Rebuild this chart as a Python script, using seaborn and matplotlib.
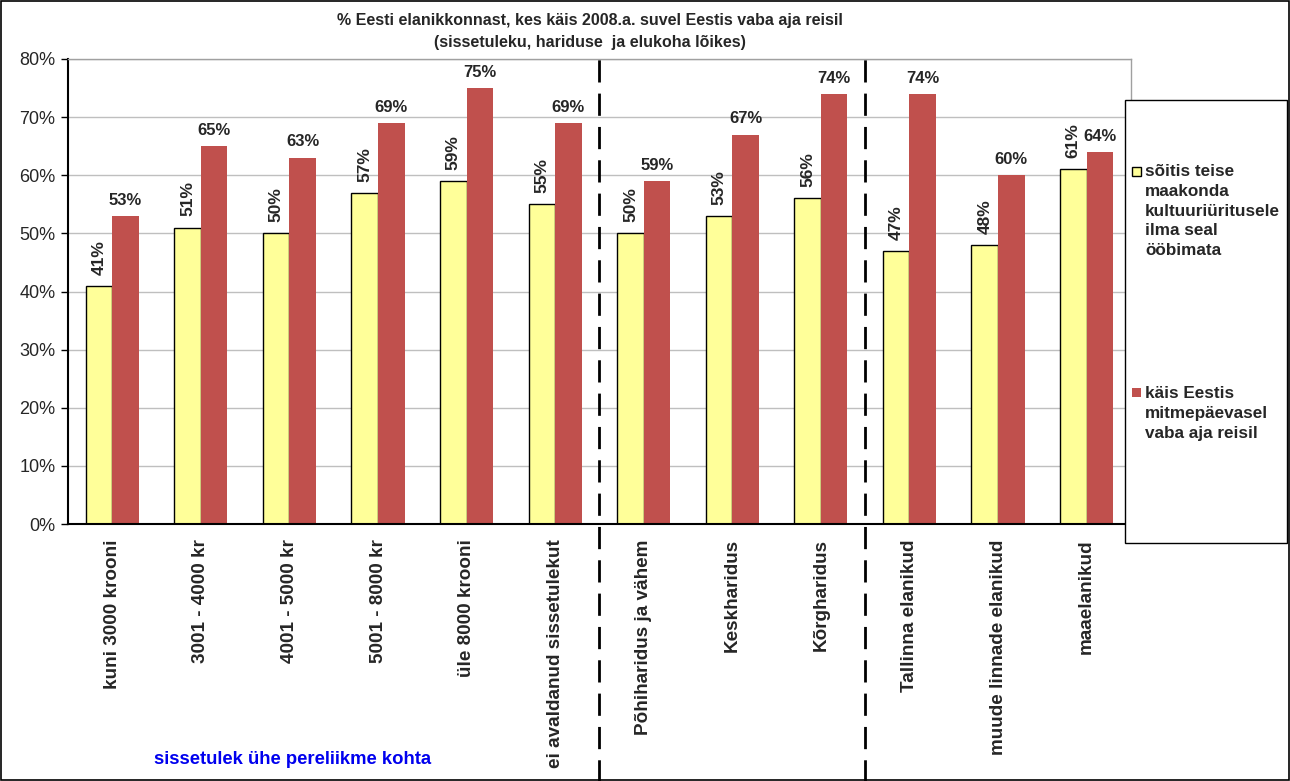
import matplotlib
matplotlib.use("Agg")
import matplotlib.pyplot as plt
import seaborn as sns
import numpy as np
import pandas as pd
from matplotlib.patches import Rectangle

# chart data
categories = ["kuni 3000 krooni", "3001 - 4000 kr", "4001 - 5000 kr", "5001 - 8000 kr",
              "üle 8000 krooni", "ei avaldanud sissetulekut", "Põhiharidus ja vähem",
              "Keskharidus", "Kõrgharidus", "Tallinna elanikud", "muude linnade elanikud",
              "maaelanikud"]
culture_trip = [41, 51, 50, 57, 59, 55, 50, 53, 56, 47, 48, 61]
leisure_trip = [53, 65, 63, 69, 75, 69, 59, 67, 74, 74, 60, 64]
series_names = ["sõitis teise\nmaakonda\nkultuuriüritusele\nilma seal\nööbimata",
                "käis Eestis\nmitmepäevasel\nvaba aja reisil"]
y_ticks = [0, 10, 20, 30, 40, 50, 60, 70, 80]
title = "% Eesti elanikkonnast, kes käis 2008.a. suvel Eestis vaba aja reisil\n(sissetuleku, hariduse  ja elukoha lõikes)"
income_note = "sissetulek ühe pereliikme kohta"

colors = ["#FFFF99", "#C0504D"]

sns.set_style("white")
plt.rcParams["font.family"] = ["Liberation Sans", "DejaVu Sans"]

df = pd.DataFrame({
    "category": categories * 2,
    "value": culture_trip + leisure_trip,
    "series": [series_names[0]] * len(categories) + [series_names[1]] * len(categories),
})

fig = plt.figure(figsize=(12.9, 7.81), dpi=100)
ax = fig.add_axes([0.0527, 0.329, 0.8240, 0.5955])

sns.barplot(data=df, x="category", y="value", hue="series", palette=colors,
            width=0.6, gap=0, saturation=1, legend=False, ax=ax)

# yellow bars get a black outline, red ones none
for bar in ax.containers[0]:
    bar.set_edgecolor("black")
    bar.set_linewidth(1.0)
for bar in ax.containers[1]:
    bar.set_edgecolor("none")

ax.bar_label(ax.containers[0], labels=[f"{v}%" for v in culture_trip], rotation=90,
             padding=8, fontsize=12.5, fontweight="bold")
ax.bar_label(ax.containers[1], labels=[f"{v}%" for v in leisure_trip],
             padding=6, fontsize=12, fontweight="bold")

ax.set_xlim(-0.5, len(categories) - 0.5)
ax.set_ylim(0, 80)
ax.set_yticks(y_ticks)
ax.set_yticklabels([f"{t}%" for t in y_ticks], fontsize=13)
ax.yaxis.grid(True, color="#BFBFBF", linewidth=1)
ax.set_axisbelow(True)
ax.set_xlabel("")
ax.set_ylabel("")
ax.set_xticks(range(len(categories)))
ax.set_xticklabels(categories, rotation=90, fontsize=13.6, fontweight="bold", va="top")
ax.set_xticks(np.arange(-0.5, len(categories), 1), minor=True)
ax.tick_params(axis="x", which="major", length=0, pad=11)
ax.tick_params(axis="x", which="minor", length=6, width=1, color="black", direction="out")
ax.tick_params(axis="y", length=5, width=1, color="black", direction="out", left=True, pad=4)

for side in ["left", "bottom"]:
    ax.spines[side].set_color("black")
    ax.spines[side].set_linewidth(1.5)
for side in ["top", "right"]:
    ax.spines[side].set_color("#A0A0A0")
    ax.spines[side].set_linewidth(1)

# dashed separators between the groups
for xs in [5.5, 8.5]:
    ax.axvline(xs, ymin=-0.56, ymax=1.0, color="black", linewidth=2,
               linestyle=(0, (8, 4)), clip_on=False)

fig.text(0.457, 0.960, title, ha="center", va="center", fontsize=11.5,
         fontweight="bold", linespacing=1.6)
fig.text(0.227, 0.027, income_note, ha="center", va="center", fontsize=13.3,
         fontweight="bold", color="#0000EE")

# legend box on the right
fig.patches.append(Rectangle((1125 / 1290, 1 - 543 / 781), 162 / 1290, 443 / 781,
                             transform=fig.transFigure, facecolor="white",
                             edgecolor="black", linewidth=1, zorder=5))
for name, color, ytop, mark_top in zip(series_names, colors, [164, 386], [167, 388]):
    fig.patches.append(Rectangle((1132 / 1290, 1 - (mark_top + 9) / 781), 9 / 1290, 9 / 781,
                                 transform=fig.transFigure, facecolor=color,
                                 edgecolor="black" if color == colors[0] else "none",
                                 linewidth=1, zorder=6))
    fig.text(1145 / 1290, 1 - ytop / 781, name, ha="left", va="top", fontsize=12.3,
             fontweight="bold", linespacing=1.4, zorder=7)

# outer frame
fig.patches.append(Rectangle((0.001, 0.001), 0.998, 0.998, transform=fig.transFigure,
                             facecolor="none", edgecolor="black", linewidth=1.2))

fig.savefig("out.png", dpi=100)
